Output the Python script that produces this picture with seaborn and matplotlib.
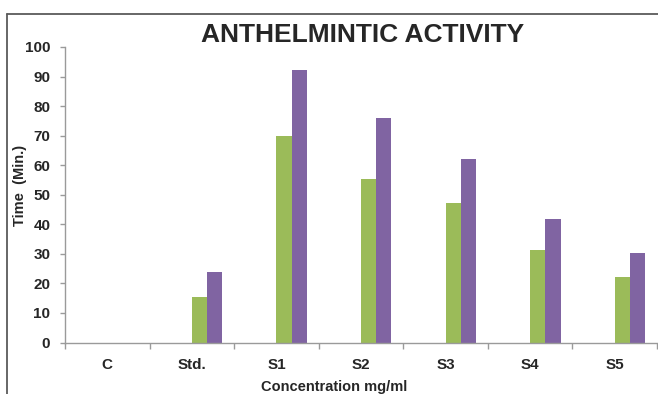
import numpy as np
import pandas as pd
import matplotlib
matplotlib.use('Agg')
import matplotlib.pyplot as plt
from matplotlib.lines import Line2D
import seaborn as sns

categories = ['C', 'Std.', 'S1', 'S2', 'S3', 'S4', 'S5']
green_vals = [0, 15.3, 70.0, 55.3, 47.3, 31.3, 22.3]
purple_vals = [0, 23.8, 92.2, 76.0, 62.1, 41.7, 30.2]
# excel chart has two empty series in front of the visible ones
series_names = ['Series1', 'Series2', 'Series3', 'Series4']
colors = ['#4F81BD', '#C0504D', '#9BBB59', '#8064A2']

df = pd.DataFrame({
    'conc': categories * 2,
    'series': ['Series3'] * len(categories) + ['Series4'] * len(categories),
    'time': green_vals + purple_vals,
})

sns.set_style('white')
plt.rcParams['font.family'] = ['Liberation Sans', 'DejaVu Sans']

fig = plt.figure(figsize=(6.58, 3.94), dpi=100)
ax = fig.add_axes([65/658, 1-342.5/394, 592/658, 295.5/394])

sns.barplot(data=df, x='conc', y='time', hue='series', hue_order=series_names,
            order=categories, palette=colors, width=0.72, legend=False,
            errorbar=None, saturation=1, ax=ax, linewidth=0)

ax.set_xlim(-0.5, len(categories) - 0.5)
ax.set_ylim(0, 100)
ax.set_yticks(np.arange(0, 101, 10))
ax.set_xticks(np.arange(-0.5, len(categories), 1), minor=True)

for s in ['top', 'right']:
    ax.spines[s].set_visible(False)
for s in ['left', 'bottom']:
    ax.spines[s].set_color('#9a9a9a')
    ax.spines[s].set_linewidth(1.0)

ax.tick_params(axis='x', which='major', length=0, pad=11, labelsize=11)
ax.tick_params(axis='x', which='minor', length=4.5, width=1, color='#9a9a9a', direction='out', bottom=True)
ax.tick_params(axis='y', length=3.6, width=1, color='#9a9a9a', direction='out', left=True, pad=7, labelsize=11)
for lab in ax.get_xticklabels() + ax.get_yticklabels():
    lab.set_fontweight('bold')

ax.set_xlabel('Concentration mg/ml', fontsize=10.5, fontweight='bold')
ax.set_ylabel('Time  (Min.)', fontsize=10.5, fontweight='bold')
ax.xaxis.set_label_coords((334-65)/592, (342.5-380)/295.5)
ax.yaxis.set_label_coords((27-65)/592, 0.53)

fig.text(363/658, 1-35/394, 'ANTHELMINTIC ACTIVITY', ha='center', va='center',
         fontsize=19, fontweight='bold')

# chart area border (cut off at right and bottom)
fig.add_artist(Line2D([7/658, 7/658], [0, 1-14/394], color='#5a5a5a', lw=1.3))
fig.add_artist(Line2D([7/658, 1], [1-14/394, 1-14/394], color='#5a5a5a', lw=1.3))

fig.savefig('out.png', dpi=100)
